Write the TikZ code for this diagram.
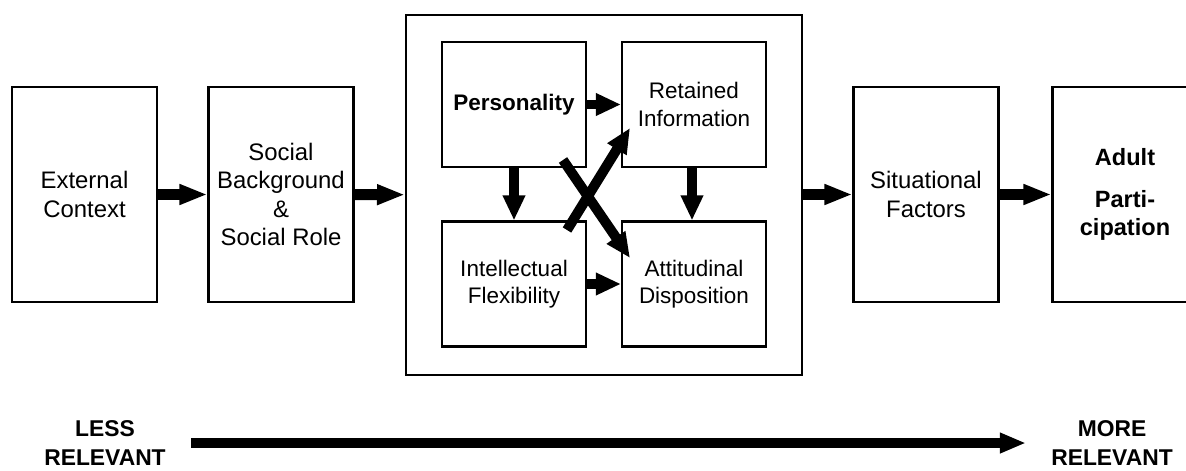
\documentclass[tikz,border=0pt]{standalone}
\usepackage{fontspec}
\setmainfont{Liberation Sans}
\usetikzlibrary{arrows.meta}

\begin{document}
\begin{tikzpicture}[x=0.02cm, y=-0.02cm,
        box/.style={draw, line width=1.2pt, minimum width=2.9cm, minimum height=4.3cm, align=center, font=\fontsize{13.6}{16}\selectfont},
        inbox/.style={draw, line width=1.2pt, minimum width=2.88cm, minimum height=2.5cm, align=center, font=\fontsize{12.8}{15.5}\selectfont},
        bigarrow/.style={line width=0.22cm, -{Triangle[length=0.56cm, width=0.38cm]}},
        inarrow/.style={line width=0.19cm, -{Triangle[length=0.5cm, width=0.42cm]}},
        endlabel/.style={align=center, inner sep=0pt, font=\fontsize{13}{16}\selectfont\bfseries}]
        \useasboundingbox (0,0) rectangle (1186,470);
        \fill[white] (0,0) rectangle (1186,470);

        % outer chain
        \node[box] (ext) at (84.5,194.5) {External\\Context};
        \node[box] (soc) at (281,194.5) {Social\\Background\\\&\\Social Role};
        \node[draw, line width=1.2pt, minimum width=7.92cm, minimum height=7.2cm] (core) at (604,195) {};
        \node[box] (sit) at (926,194.5) {Situational\\Factors};
        \node[box, font=\fontsize{13.4}{16}\selectfont\bfseries] (adult) at (1125,194.5) {Adult\\[8pt]Parti-\\cipation};

        % inner boxes
        \node[inbox, font=\fontsize{12.8}{15.5}\selectfont\bfseries] (pers) at (514,104.5) {Personality};
        \node[inbox] (ret) at (694,104.5) {Retained\\Information};
        \node[inbox] (intel) at (514,284) {Intellectual\\Flexibility};
        \node[inbox] (att) at (694,284) {Attitudinal\\Disposition};

        % arrows between stages
        \draw[bigarrow] (ext) -- (soc);
        \draw[bigarrow] (soc) -- (core);
        \draw[bigarrow] (core.east |- sit.west) -- (sit);
        \draw[bigarrow] (sit) -- (adult);

        % arrows in the core
        \draw[inarrow] (pers) -- (ret);
        \draw[inarrow] (intel) -- (att);
        \draw[inarrow] (pers) -- (intel);
        \draw[inarrow] (ret.south -| 692,0) -- (att.north -| 692,0);

        % crossing arrows
        \coordinate (xa) at (563,160);
        \coordinate (xb) at (630,258);
        \coordinate (ya) at (567,230);
        \coordinate (yb) at (630,128);
        \draw[inarrow, line width=0.2cm] (xa) -- (xb);
        \draw[inarrow, line width=0.2cm] (ya) -- (yb);

        % relevance scale
        \node[endlabel] (less) at (105,443) {LESS\\RELEVANT};
        \node[endlabel] (more) at (1112,443) {MORE\\RELEVANT};
        \draw[line width=0.2cm, -{Triangle[length=0.52cm, width=0.38cm]}, shorten <=0.5cm, shorten >=0.5cm] (less) -- (more);
    \end{tikzpicture}
\end{document}
